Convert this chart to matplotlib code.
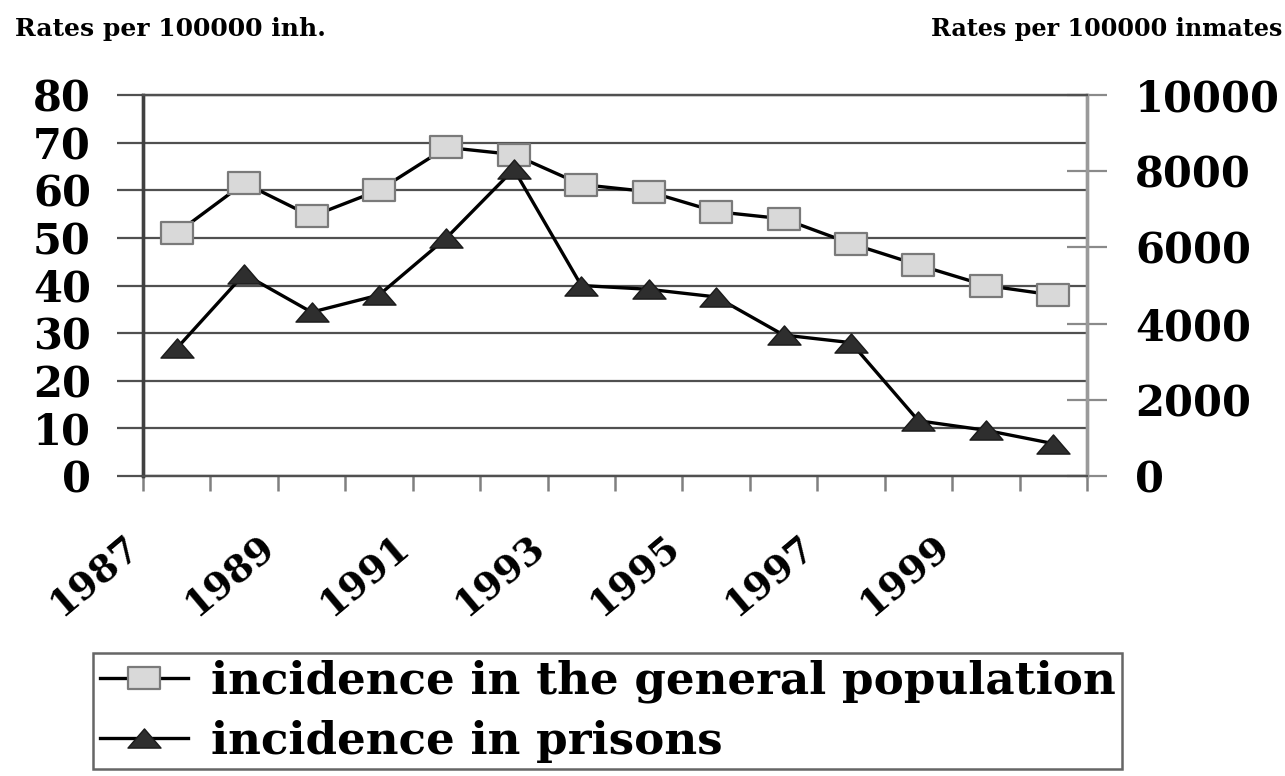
"""
Incidence in the general population vs. incidence in prisons, 1987-2000.

Left axis: rates per 100000 inhabitants (squares).
Right axis: rates per 100000 inmates (triangles).
"""

import numpy as np
import matplotlib.pyplot as plt
from matplotlib.path import Path
from matplotlib.transforms import ScaledTranslation


# ---------------------------------------------------------------------
# Data
# ---------------------------------------------------------------------

years = [1987, 1988, 1989, 1990, 1991, 1992, 1993,
         1994, 1995, 1996, 1997, 1998, 1999, 2000]

# rates per 100000 inhabitants
general_population = [51, 61.5, 54.5, 60, 69, 67.5, 61.2,
                      59.7, 55.5, 54, 48.8, 44.3, 40, 38]

# rates per 100000 inmates
prisons = [3350, 5300, 4300, 4750, 6250, 8050, 5000,
           4900, 4700, 3700, 3500, 1450, 1200, 850]

left_ticks = [0, 10, 20, 30, 40, 50, 60, 70, 80]
right_ticks = [0, 2000, 4000, 6000, 8000, 10000]

label_general = "incidence in the general population"
label_prisons = "incidence in prisons"


# ---------------------------------------------------------------------
# Style
# ---------------------------------------------------------------------

plt.rcParams["font.family"] = ["DejaVu Serif"]
plt.rcParams["font.weight"] = "bold"

DPI = 100


def px(v):
    """pixels -> points at the figure dpi"""
    return v * 72.0 / DPI


# wide, flat markers like the original (which is stretched sideways)
square = Path([(-1.0, -0.69), (1.0, -0.69), (1.0, 0.69),
               (-1.0, 0.69), (-1.0, -0.69)], closed=True)
triangle = Path([(-1.0, -0.58), (1.0, -0.58), (0.0, 0.58),
                 (-1.0, -0.58)], closed=True)


# ---------------------------------------------------------------------
# Plot
# ---------------------------------------------------------------------

fig = plt.figure(figsize=(12.85, 7.76), dpi=DPI)
ax = fig.add_axes([143 / 1285, 1 - 476 / 776,
                   (1087 - 143) / 1285, (476 - 95) / 776])
ax2 = ax.twinx()

x = np.arange(len(years))

ax.plot(x, general_population, color="black", lw=2.4,
        marker=square, markersize=px(32), markerfacecolor="#d9d9d9",
        markeredgecolor="#7a7a7a", markeredgewidth=1.6,
        label=label_general, zorder=3)

ax2.plot(x, prisons, color="black", lw=2.4,
         marker=triangle, markersize=px(33), markerfacecolor="#2e2e2e",
         markeredgecolor="#1a1a1a", markeredgewidth=1.0,
         label=label_prisons, zorder=3)

# left axis
ax.set_ylim(0, 80)
ax.set_yticks(left_ticks)
ax.yaxis.grid(True, color="#505050", lw=1.6)
ax.set_axisbelow(True)
ax.tick_params(axis="y", direction="out", length=px(26), width=1.6,
               color="#505050", pad=px(26), labelsize=30)

# x axis: ticks on category boundaries, labels every other year
ax.set_xlim(-0.5, len(years) - 0.5)
ax.set_xticks(np.arange(-0.5, len(years), 1))
ax.set_xticklabels([])
ax.set_xticks(x[::2], minor=True)
ax.set_xticklabels([str(y) for y in years[::2]], minor=True,
                   rotation=40, ha="right", va="top")
ax.tick_params(axis="x", which="major", direction="out", length=px(15),
               width=1.8, color="#808080")
ax.tick_params(axis="x", which="minor", length=0, pad=px(51),
               labelsize=27)

offset = ScaledTranslation(-30 / DPI, 0, fig.dpi_scale_trans)
for lab in ax.xaxis.get_minorticklabels():
    lab.set_transform(lab.get_transform() + offset)

# right axis
ax2.set_ylim(0, 10000)
ax2.set_yticks(right_ticks)
ax2.tick_params(axis="y", direction="inout", length=px(40), width=1.6,
                color="#8a8a8a", pad=px(28), labelsize=30)

for a in (ax, ax2):
    a.spines["top"].set_color("#505050")
    a.spines["top"].set_linewidth(1.6)
    a.spines["bottom"].set_color("#505050")
    a.spines["bottom"].set_linewidth(1.6)
    a.spines["left"].set_color("#404040")
    a.spines["left"].set_linewidth(2.4)
    a.spines["right"].set_color("#9a9a9a")
    a.spines["right"].set_linewidth(2.4)

# axis captions
fig.text(15 / 1285, 1 - 29 / 776, "Rates per 100000 inh.",
         ha="left", va="center", fontsize=18)
fig.text(1282 / 1285, 1 - 29 / 776, "Rates per 100000 inmates",
         ha="right", va="center", fontsize=17.2)

# legend
h1, l1 = ax.get_legend_handles_labels()
h2, l2 = ax2.get_legend_handles_labels()
leg = fig.legend(h1 + h2, l1 + l2, loc="upper left",
                 bbox_to_anchor=(93 / 1285, 1 - 653 / 776),
                 frameon=True, fancybox=False, fontsize=32.6,
                 markerscale=1.0, handlelength=1.95, handletextpad=0.5,
                 labelspacing=0.36, borderpad=0.15, borderaxespad=0)
leg.get_frame().set_edgecolor("#404040")
leg.get_frame().set_linewidth(1.8)

plt.savefig("out.png", dpi=DPI)
